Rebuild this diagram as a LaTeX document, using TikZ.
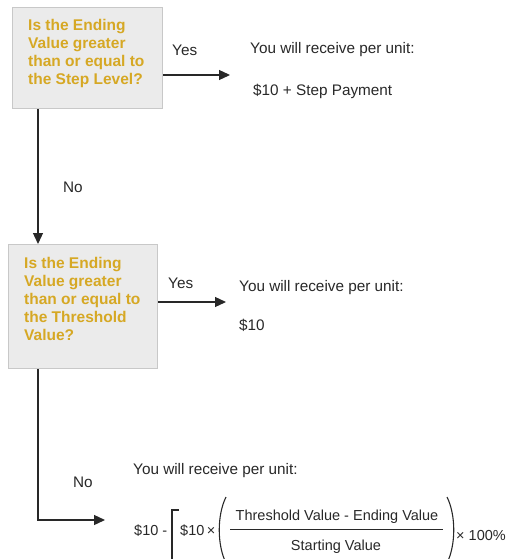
\documentclass[tikz,border=0pt]{standalone}
\usepackage{fontspec}
\setmainfont{Liberation Sans}
\usetikzlibrary{arrows.meta}
\definecolor{gold}{RGB}{214,168,36}
\definecolor{boxfill}{RGB}{235,235,235}
\definecolor{boxline}{RGB}{200,200,200}
\definecolor{ink}{RGB}{40,40,40}
\begin{document}
\begin{tikzpicture}[x=1pt,y=-1pt,
  qbox/.style={draw=boxline, fill=boxfill, line width=1.2pt, inner sep=0pt, anchor=north west},
  qtext/.style={font=\fontsize{15.5}{18}\selectfont\bfseries, text=gold, align=left, anchor=north west, inner sep=0pt},
  ltext/.style={font=\fontsize{15.3}{18}\selectfont, text=ink, anchor=west, inner sep=0pt},
  ftext/.style={font=\fontsize{14.5}{17}\selectfont, text=ink, inner sep=0pt},
  arr/.style={draw=ink, line width=1.3pt, -{Triangle[length=11pt,width=10pt]}},
  delim/.style={draw=ink, line width=1.1pt},
]
\useasboundingbox (0,0) rectangle (514,559);

% question boxes
\node[qbox, minimum width=150pt, minimum height=101pt] (b1) at (12,7) {};
\node[qtext] (t1) at (28,19) {Is the Ending\\Value greater\\than or equal to\\the Step Level?};
\node[qbox, minimum width=149pt, minimum height=124pt] (b2) at (8,244) {};
\node[qtext] (t2) at (24,257) {Is the Ending\\Value greater\\than or equal to\\the Threshold\\Value?};

% labels
\node[ltext] (yes1) at (172,50) {Yes};
\node[ltext] (r1a) at (250,50) {You will receive per unit:};
\node[ltext] (r1b) at (253,91) {\$10 + Step Payment};
\node[ltext] (no1) at (63,187) {No};
\node[ltext] (yes2) at (168,283) {Yes};
\node[ltext] (r2a) at (239,288) {You will receive per unit:};
\node[ltext] (r2b) at (239,325) {\$10};
\node[ltext] (no2) at (73,482) {No};
\node[ltext] (r3a) at (133,471) {You will receive per unit:};

% connectors
\coordinate (vx) at (38,0);
\coordinate (e1) at (230,75);
\coordinate (e2) at (226,302);
\coordinate (e3) at (105,520);
\draw[arr] (b1.east |- e1) -- (e1);
\draw[arr] (b1.south -| vx) -- (b2.north -| vx);
\draw[arr] (b2.east |- e2) -- (e2);
\draw[arr] (b2.south -| vx) |- (e3);

% formula
\node[ftext, anchor=west] (f1) at (134,531) {\$10 -};
\node[ftext, anchor=west] (f2) at (180,531) {\$10\,×};
\node[ftext] (num) at (337,517) {Threshold Value - Ending Value};
\node[ftext] (den) at (336,547) {Starting Value};
\node[ftext, anchor=west] (f3) at (456,536) {× 100\%};
\coordinate (barL) at (230,529);
\coordinate (barR) at (443,529);
\draw[draw=ink, line width=1pt] (barL) -- (barR);
% left bracket
\draw[delim, line width=1.4pt] (179,510) -- (172,510) -- (172,562);
% parentheses
\draw[delim] (226,497) .. controls (217,515) and (217,545) .. (226,563);
\draw[delim] (447,497) .. controls (456,515) and (456,545) .. (447,563);
\end{tikzpicture}
\end{document}
